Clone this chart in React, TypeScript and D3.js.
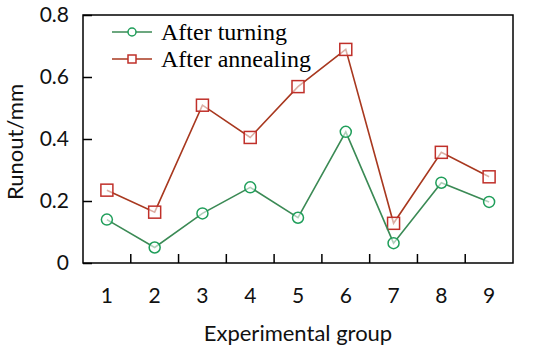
import { useRef, useEffect } from "react";
import * as d3 from "d3";

const groups: string[] = ["1", "2", "3", "4", "5", "6", "7", "8", "9"];
const afterTurning: number[] = [0.14, 0.05, 0.16, 0.244, 0.146, 0.423, 0.064, 0.259, 0.197];
const afterAnnealing: number[] = [0.235, 0.164, 0.509, 0.405, 0.569, 0.689, 0.128, 0.357, 0.278];
const yTicks: number[] = [0, 0.2, 0.4, 0.6, 0.8];
const seriesNames: string[] = ["After turning", "After annealing"];

const App = () => {
  const svgRef = useRef<SVGSVGElement>(null);
  const width = 550;
  const height = 355;
  const margin = { top: 15, right: 37, bottom: 92, left: 83 };
  const sansFont = "Lato, 'Open Sans', sans-serif";
  const serifFont = "'Liberation Serif', 'Times New Roman', serif";

  useEffect(() => {
    const svg: any = d3.select(svgRef.current);
    svg.selectAll("*").remove();

    const x = d3.scaleBand()
      .domain(groups)
      .range([margin.left, width - margin.right]);
    const y = d3.scaleLinear()
      .domain([0, 0.8])
      .range([height - margin.bottom, margin.top]);
    const cx = (d: string) => (x(d) as number) + x.bandwidth() / 2;

    // frame
    svg.append("rect")
      .attr("x", margin.left)
      .attr("y", margin.top)
      .attr("width", width - margin.left - margin.right)
      .attr("height", height - margin.top - margin.bottom)
      .attr("fill", "none")
      .attr("stroke", "#000")
      .attr("stroke-width", 1.5);

    // y axis ticks + labels
    const yAxis = d3.axisLeft(y)
      .tickValues(yTicks)
      .tickSize(-9)
      .tickPadding(14)
      .tickFormat((d: any) => (d === 0 ? "0" : d3.format(".1f")(d)));
    const gy = svg.append("g")
      .attr("transform", `translate(${margin.left},0)`)
      .call(yAxis);
    gy.select(".domain").remove();
    gy.selectAll("line").attr("stroke", "#000").attr("stroke-width", 1.5);
    gy.selectAll("text")
      .attr("font-family", sansFont)
      .attr("font-size", 21)
      .attr("fill", "#111");

    // x tick marks at band boundaries
    const boundaries = groups.slice(1);
    svg.append("g")
      .selectAll("line")
      .data(boundaries)
      .join("line")
      .attr("x1", (d: string) => x(d) as number)
      .attr("x2", (d: string) => x(d) as number)
      .attr("y1", height - margin.bottom)
      .attr("y2", height - margin.bottom - 9)
      .attr("stroke", "#000")
      .attr("stroke-width", 1.5);

    // x labels
    svg.append("g")
      .selectAll("text")
      .data(groups)
      .join("text")
      .attr("x", (d: string) => cx(d))
      .attr("y", 303)
      .attr("text-anchor", "middle")
      .attr("font-family", sansFont)
      .attr("font-size", 21)
      .attr("fill", "#111")
      .text((d: string) => d);

    // axis titles
    svg.append("text")
      .attr("x", 298)
      .attr("y", 341)
      .attr("text-anchor", "middle")
      .attr("font-family", sansFont)
      .attr("font-size", 22)
      .attr("fill", "#111")
      .text("Experimental group");
    svg.append("text")
      .attr("transform", `translate(23,${142}) rotate(-90)`)
      .attr("text-anchor", "middle")
      .attr("font-family", sansFont)
      .attr("font-size", 22)
      .attr("fill", "#111")
      .text("Runout/mm");

    const line = d3.line<number>()
      .x((_, i) => cx(groups[i]))
      .y((d) => y(d));

    // annealing series
    svg.append("path")
      .datum(afterAnnealing)
      .attr("d", line)
      .attr("fill", "none")
      .attr("stroke", "#a8381f")
      .attr("stroke-width", 1.6);
    svg.append("g")
      .selectAll("rect")
      .data(afterAnnealing)
      .join("rect")
      .attr("x", (_: number, i: number) => cx(groups[i]) - 6)
      .attr("y", (d: number) => y(d) - 6)
      .attr("width", 12)
      .attr("height", 12)
      .attr("fill", "#fff")
      .attr("fill-opacity", 0.6)
      .attr("stroke", "#c0302a")
      .attr("stroke-width", 1.5);

    // turning series
    svg.append("path")
      .datum(afterTurning)
      .attr("d", line)
      .attr("fill", "none")
      .attr("stroke", "#3b8a55")
      .attr("stroke-width", 1.6);
    svg.append("g")
      .selectAll("circle")
      .data(afterTurning)
      .join("circle")
      .attr("cx", (_: number, i: number) => cx(groups[i]))
      .attr("cy", (d: number) => y(d))
      .attr("r", 5.5)
      .attr("fill", "#fff")
      .attr("fill-opacity", 0.6)
      .attr("stroke", "#1f9e5a")
      .attr("stroke-width", 1.5);

    // legend
    const legendRows = [
      { name: seriesNames[0], line: "#3b8a55", mark: "#1f9e5a", shape: "circle", yPos: 32 },
      { name: seriesNames[1], line: "#a8381f", mark: "#c0302a", shape: "square", yPos: 59 },
    ];
    const lg = svg.append("g");
    legendRows.forEach((r) => {
      lg.append("line")
        .attr("x1", 112).attr("x2", 152)
        .attr("y1", r.yPos).attr("y2", r.yPos)
        .attr("stroke", r.line).attr("stroke-width", 1.6);
      if (r.shape === "circle") {
        lg.append("circle")
          .attr("cx", 132).attr("cy", r.yPos).attr("r", 4)
          .attr("fill", "#fff").attr("stroke", r.mark).attr("stroke-width", 1.5);
      } else {
        lg.append("rect")
          .attr("x", 128).attr("y", r.yPos - 4).attr("width", 8).attr("height", 8)
          .attr("fill", "#fff").attr("stroke", r.mark).attr("stroke-width", 1.5);
      }
      lg.append("text")
        .attr("x", 161).attr("y", r.yPos + 8)
        .attr("font-family", serifFont)
        .attr("font-size", 24)
        .attr("fill", "#000")
        .text(r.name);
    });
  }, []);

  return (
    <svg
      ref={svgRef}
      width={width}
      height={height}
      style={{ position: "absolute", left: 0, top: 0, background: "#fff" }}
    />
  );
};

export default App;
